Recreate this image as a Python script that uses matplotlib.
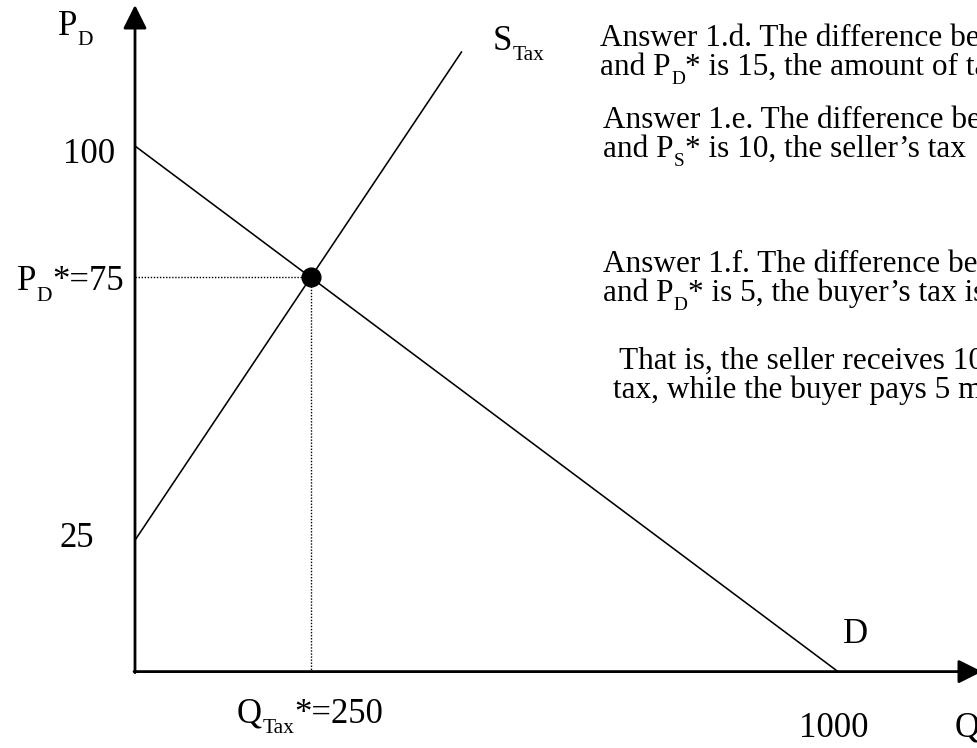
import matplotlib
matplotlib.use("Agg")
import matplotlib.pyplot as plt
from matplotlib.transforms import IdentityTransform

plt.rcParams['font.family'] = ['Liberation Serif', 'DejaVu Serif']

# ---- data ----
demand_q = [0, 1000]
demand_p = [100, 0]
supply_q = [0, 465]
supply_p = [25, 118]
eq_q = 250
eq_p = 75
y_ticks = [100, 75, 25]
y_tick_labels = [[("100", 0)],
                 [("P", 0), ("D", 1), ("*=75", 0)],
                 [("25", 0)]]
x_ticks = [250, 1000]
x_tick_labels = [[("Q", 0), ("Tax", 1), ("*=250", 0)],
                 [("1000", 0)]]
answer_lines = [
    [("Answer 1.d. The difference between", 0)],
    [("and P", 0), ("D", 1), ("* is 15, the amount of tax", 0)],
    [("Answer 1.e. The difference between", 0)],
    [("and P", 0), ("S", 1), ("* is 10, the seller’s tax", 0)],
    [("Answer 1.f. The difference between", 0)],
    [("and P", 0), ("D", 1), ("* is 5, the buyer’s tax is", 0)],
    [("That is, the seller receives 10", 0)],
    [("tax, while the buyer pays 5 more", 0)],
]
answer_pos = [(600, 46), (600, 75), (603, 128), (603, 157),
              (603, 272), (603, 301), (619, 369), (613, 398)]

W, H = 977, 748
fig = plt.figure(figsize=(W / 100, H / 100), dpi=100)
ax = fig.add_axes([0, 0, 1, 1])
ax.set_axis_off()

# pixel mapping: Q=0 -> x 135, Q=1000 -> x 838 ; P=0 -> y 671.6, P=100 -> y 146
x0, xs = 135.0, 0.703
y0, ys = 671.6, 5.256
ax.set_xlim(-x0 / xs, (W - x0) / xs)
ax.set_ylim(-(H - y0) / ys, y0 / ys)

renderer = fig.canvas.get_renderer()


def rich(xd, yd, segs, fs, ha='left', sub_scale=0.62, drop=0.3):
    """Draw text with subscripts; xd, yd = display pixels (baseline)."""
    items = []
    for s, sub in segs:
        size = fs * sub_scale if sub else fs
        t = fig.text(0, 0, s, fontsize=size, va='baseline', ha='left',
                     transform=IdentityTransform())
        w = t.get_window_extent(renderer).width
        items.append((t, w, sub))
    total = sum(w for _, w, _ in items)
    if ha == 'right':
        x = xd - total
    elif ha == 'center':
        x = xd - total / 2
    else:
        x = xd
    for t, w, sub in items:
        gap = 0.5 if sub else 0.0
        t.set_position((x + gap, yd - (drop * fs * 100 / 72 if sub else 0)))
        x += w + gap


def tl(x, y):
    """top-left pixel coords -> display coords"""
    return x, H - y


# axes with arrows
p_tip = (y0 - 5) / ys
q_tip = (982 - x0) / xs
arrow_kw = dict(arrowstyle='-|>,head_length=0.4,head_width=0.2', mutation_scale=36,
                lw=2, color='black', shrinkA=0, shrinkB=0)
ax.annotate('', xy=(0, p_tip), xytext=(0, -0.2), arrowprops=arrow_kw, annotation_clip=False)
ax.annotate('', xy=(q_tip, 0), xytext=(-1.4, 0), arrowprops=arrow_kw,
            annotation_clip=False)

# curves
ax.plot(demand_q, demand_p, color='black', lw=1.15, solid_capstyle='butt')
ax.plot(supply_q, supply_p, color='black', lw=1.15, solid_capstyle='butt')

# dotted guides
ax.plot([0, eq_q], [eq_p, eq_p], color='black', lw=1.0, linestyle=(0, (1, 1.2)))
ax.plot([eq_q, eq_q], [eq_p, 0], color='black', lw=1.0, linestyle=(0, (1, 1.2)))

# equilibrium point
ax.plot([eq_q], [eq_p], marker='o', markersize=13.5, color='black', zorder=5)

lab_fs = 25
# y tick labels (right edge, baseline offsets in pixels)
y_offsets = [(-20, -17), (-12, -13), (-41, -7)]
for v, lab, off in zip(y_ticks, y_tick_labels, y_offsets):
    dx, dy = ax.transData.transform((0, v))
    rich(dx + off[0], dy + off[1], lab, lab_fs, ha='right')

x_offsets = [(-1, -51), (-4, -65)]
for v, lab, off in zip(x_ticks, x_tick_labels, x_offsets):
    dx, dy = ax.transData.transform((v, 0))
    rich(dx + off[0], dy + off[1], lab, lab_fs, ha='center')

# axis / curve names
rich(*tl(58, 35), [("P", 0), ("D", 1)], lab_fs)
rich(*tl(955, 737), [("Q", 0)], lab_fs)
rich(*tl(843, 643), [("D", 0)], lab_fs)
rich(*tl(493, 50), [("S", 0), ("Tax", 1)], lab_fs)

# answer text
for segs, (x, y) in zip(answer_lines, answer_pos):
    rich(*tl(x, y), segs, 22.5)

fig.savefig('out.png', dpi=100)
